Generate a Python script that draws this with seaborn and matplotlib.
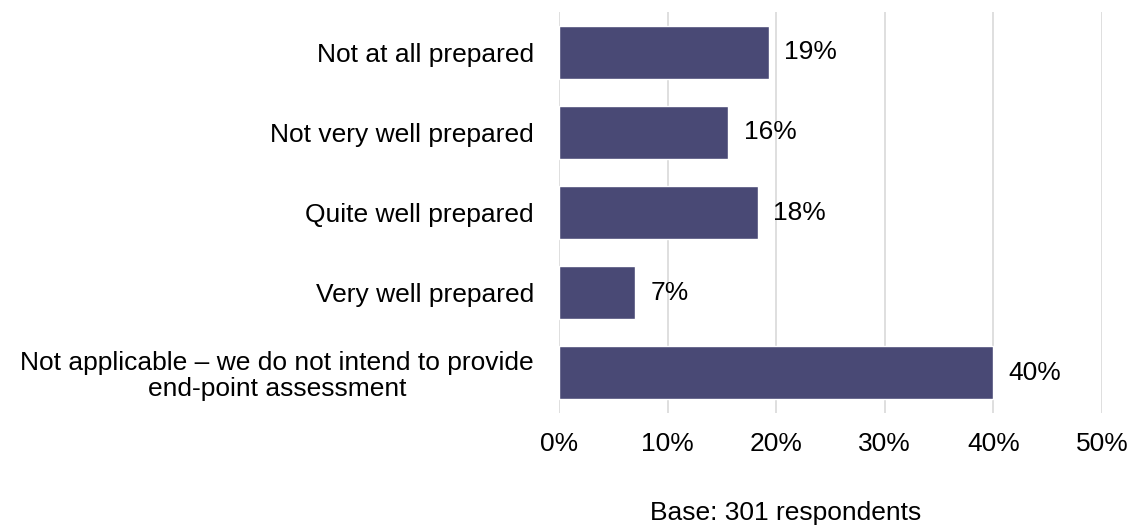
import matplotlib
matplotlib.use("Agg")
import matplotlib.pyplot as plt
import seaborn as sns
import pandas as pd

categories = [
    "Not at all prepared",
    "Not very well prepared",
    "Quite well prepared",
    "Very well prepared",
    "Not applicable \u2013 we do not intend to provide\nend-point assessment",
]
values = [19.3, 15.6, 18.3, 7.0, 40.0]
xticks = [0, 10, 20, 30, 40, 50]
base_note = "Base: 301 respondents"

df = pd.DataFrame({"category": categories, "value": values})

sns.set_theme(style="white")
plt.rcParams["font.family"] = ["Liberation Sans", "DejaVu Sans"]

FS = 19

fig = plt.figure(figsize=(11.33, 5.27), dpi=100)
ax = fig.add_axes([0.4934, 0.2163, 0.4792, 0.7607])

sns.barplot(data=df, x="value", y="category", orient="h", color="#494975",
            saturation=1, width=0.66, ax=ax, zorder=3)

ax.set_xlim(0, 50)
ax.set_xticks(xticks)
ax.set_xticklabels([f"{t}%" for t in xticks])
ax.xaxis.grid(True, color="#d9d9d9", linewidth=1.2, zorder=0)
ax.yaxis.grid(False)
for s in ax.spines.values():
    s.set_visible(False)
ax.set_xlabel("")
ax.set_ylabel("")
ax.tick_params(axis="x", length=0, pad=14, labelsize=FS, colors="black")
ax.tick_params(axis="y", length=0, pad=18, labelsize=FS, colors="black")
for lbl in ax.get_yticklabels():
    lbl.set_horizontalalignment("right")
    lbl.set_multialignment("center")
    lbl.set_linespacing(1.08)

for p, v in zip(ax.patches, values):
    ax.text(p.get_width() + 1.4, p.get_y() + p.get_height() / 2,
            f"{round(v):.0f}%", va="center", ha="left", fontsize=FS,
            color="black")

fig.text(786 / 1133, 1 - 513 / 527, base_note, ha="center", va="center",
         fontsize=FS, color="black")

fig.savefig("out.png", dpi=100, facecolor="white")
